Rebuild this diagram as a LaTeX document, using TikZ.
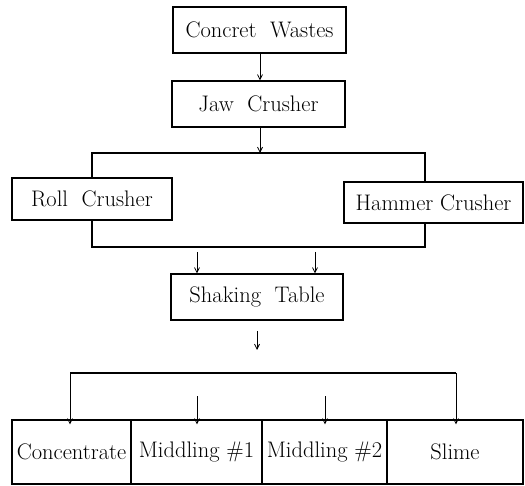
\documentclass[tikz,border=0pt]{standalone}
\usetikzlibrary{arrows.meta}
\begin{document}
\begin{tikzpicture}[x=1pt,y=-1pt,
  box/.style={draw,line width=1.1pt,inner sep=0pt,font=\fontsize{22.5}{26}\selectfont},
  ln/.style={line width=1.1pt},
  arr/.style={line width=0.8pt,-{Straight Barb[length=5pt,width=5pt]}}]
\useasboundingbox (0,0) rectangle (525,486);
% boxes
\node[box,minimum width=173pt,minimum height=46pt] (cw) at (259.5,30) {Concret\ \ Wastes};
\node[box,minimum width=173pt,minimum height=46pt] (jaw) at (258.5,104) {Jaw\ \ Crusher};
\node[box,minimum width=160pt,minimum height=42pt] (roll) at (92,199) {Roll\ \ Crusher};
\node[box,minimum width=179pt,minimum height=41pt] (ham) at (433.5,202.5) {Hammer\ Crusher};
\node[box,minimum width=172pt,minimum height=46pt] (shake) at (257,297) {Shaking\ \ Table};
\node[box,minimum width=119pt,minimum height=64pt] (conc) at (71.5,452) {Concentrate};
\node[box,minimum width=131pt,minimum height=64pt] (m1) at (196.5,452) {Middling\ \#1};
\node[box,minimum width=125pt,minimum height=64pt] (m2) at (324.5,452) {Middling\ \#2};
\node[box,minimum width=136pt,minimum height=64pt] (slime) at (455,452) {Slime};
% coordinates
\coordinate (b1l) at (92,153);
\coordinate (b1m) at (260,153);
\coordinate (b1r) at (425,153);
\coordinate (b2l) at (92,247);
\coordinate (b2r) at (425,247);
\coordinate (a1s) at (197,252);
\coordinate (a2s) at (315,252);
\coordinate (a3s) at (257,331);
\coordinate (a3e) at (257,350);
\coordinate (b3l) at (70,373);
\coordinate (b3r) at (456,373);
\coordinate (a4s) at (197,396);
\coordinate (a5s) at (325,396);
% connectors
\draw[arr] (cw.south -| b1m) -- (jaw.north -| b1m);
\draw[arr] (jaw.south -| b1m) -- (b1m);
\draw[ln] (roll.north) -- (b1l) -- (b1r) -- (ham.north -| b1r);
\draw[ln] (roll.south) -- (b2l) -- (b2r) -- (ham.south -| b2r);
\draw[arr] (a1s) -- (shake.north -| a1s);
\draw[arr] (a2s) -- (shake.north -| a2s);
\draw[arr] (a3s) -- (a3e);
\draw[ln] (b3l) -- (b3r);
\draw[arr] (b3l) -- ([yshift=-5pt]conc.north -| b3l);
\draw[arr] (b3r) -- ([yshift=-5pt]slime.north -| b3r);
\draw[arr] (a4s) -- ([yshift=-5pt]m1.north -| a4s);
\draw[arr] (a5s) -- ([yshift=-5pt]m2.north -| a5s);
\end{tikzpicture}
\end{document}
